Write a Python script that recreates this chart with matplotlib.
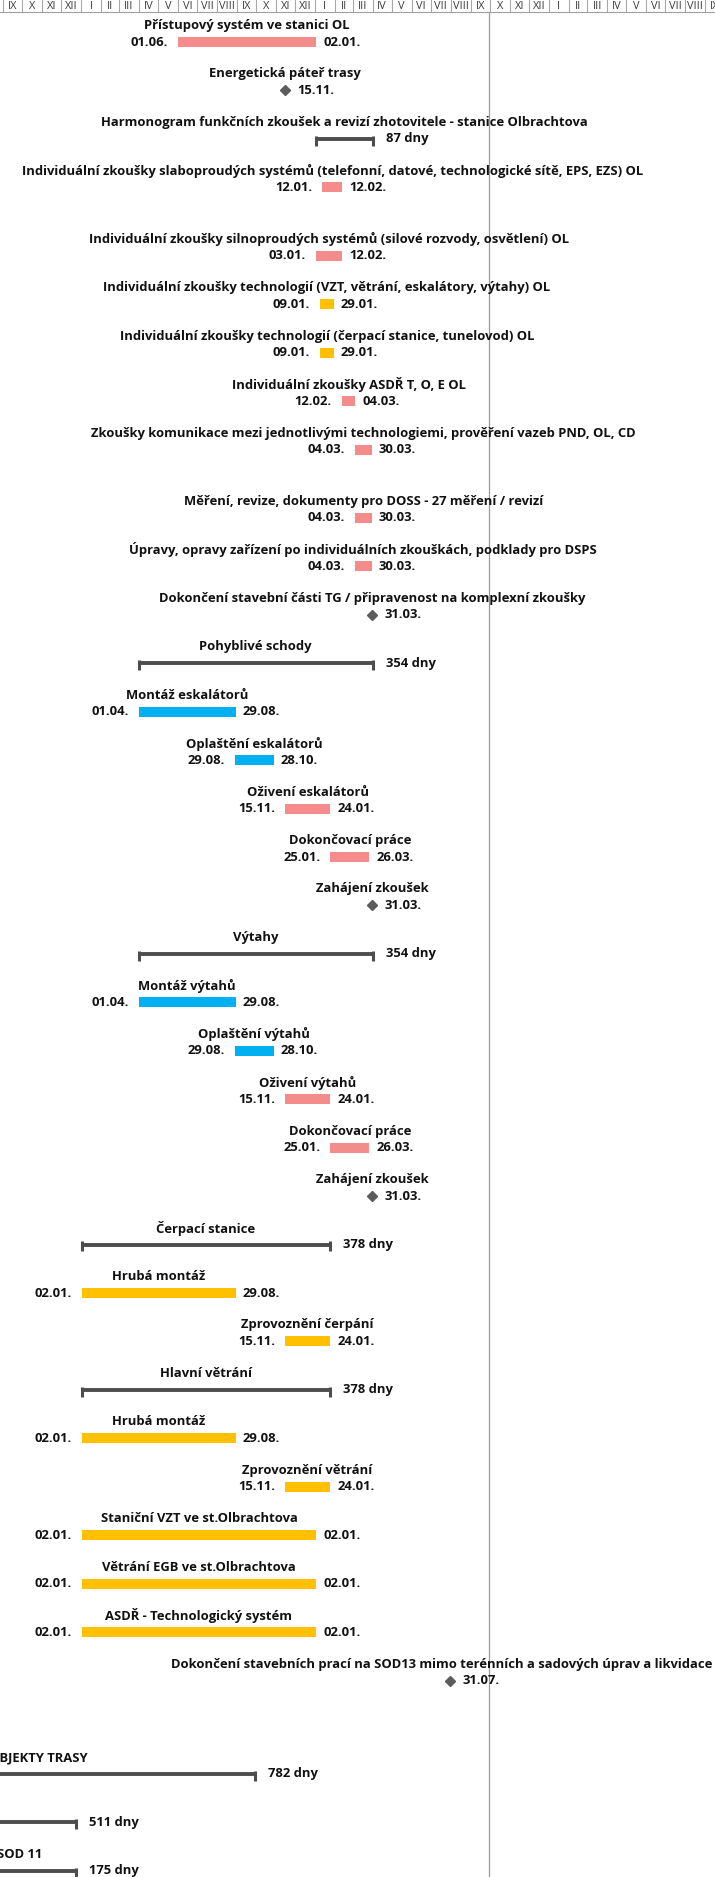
import matplotlib
matplotlib.use("Agg")
import matplotlib.pyplot as plt
import matplotlib.dates as mdates
import pandas as pd

plt.rcParams['font.family'] = ['Open Sans', 'DejaVu Sans']

# ---- data ---------------------------------------------------------------
names = [
    'Přístupový systém ve stanici OL',
    'Energetická páteř trasy',
    'Harmonogram funkčních zkoušek a revizí zhotovitele - stanice Olbrachtova',
    'Individuální zkoušky slaboproudých systémů (telefonní, datové, technologické sítě, EPS, EZS) OL',
    'Individuální zkoušky silnoproudých systémů (silové rozvody, osvětlení) OL',
    'Individuální zkoušky technologií (VZT, větrání, eskalátory, výtahy) OL',
    'Individuální zkoušky technologií (čerpací stanice, tunelovod) OL',
    'Individuální zkoušky ASDŘ T, O, E OL',
    'Zkoušky komunikace mezi jednotlivými technologiemi, prověření vazeb PND, OL, CD',
    'Měření, revize, dokumenty pro DOSS - 27 měření / revizí',
    'Úpravy, opravy zařízení po individuálních zkouškách, podklady pro DSPS',
    'Dokončení stavební části TG / připravenost na komplexní zkoušky',
    'Pohyblivé schody',
    'Montáž eskalátorů',
    'Oplaštění eskalátorů',
    'Oživení eskalátorů',
    'Dokončovací práce',
    'Zahájení zkoušek',
    'Výtahy',
    'Montáž výtahů',
    'Oplaštění výtahů',
    'Oživení výtahů',
    'Dokončovací práce',
    'Zahájení zkoušek',
    'Čerpací stanice',
    'Hrubá montáž',
    'Zprovoznění čerpání',
    'Hlavní větrání',
    'Hrubá montáž',
    'Zprovoznění větrání',
    'Staniční VZT ve st.Olbrachtova',
    'Větrání EGB ve st.Olbrachtova',
    'ASDŘ - Technologický systém',
    'Dokončení stavebních prací na SOD13 mimo terénních a sadových úprav a likvidace ZS',
    'SOD 13 - OBJEKTY TRASY',
    'SOD 12',
    'SOD 11',
]

kinds = ['task', 'milestone', 'summary', 'task', 'task', 'task', 'task', 'task',
         'task', 'task', 'task', 'milestone', 'summary', 'task', 'task', 'task',
         'task', 'milestone', 'summary', 'task', 'task', 'task', 'task',
         'milestone', 'summary', 'task', 'task', 'summary', 'task', 'task',
         'task', 'task', 'task', 'milestone', 'summary', 'summary', 'summary']

starts = ['01.06.2026', '15.11.2026', '03.01.2027', '12.01.2027', '03.01.2027',
          '09.01.2027', '09.01.2027', '12.02.2027', '04.03.2027', '04.03.2027',
          '04.03.2027', '31.03.2027', '01.04.2026', '01.04.2026', '29.08.2026',
          '15.11.2026', '25.01.2027', '31.03.2027', '01.04.2026', '01.04.2026',
          '29.08.2026', '15.11.2026', '25.01.2027', '31.03.2027', '02.01.2026',
          '02.01.2026', '15.11.2026', '02.01.2026', '02.01.2026', '15.11.2026',
          '02.01.2026', '02.01.2026', '02.01.2026', '31.07.2027', '28.08.2024',
          '31.07.2024', '02.07.2025']

ends = ['02.01.2027', '15.11.2026', '31.03.2027', '12.02.2027', '12.02.2027',
        '29.01.2027', '29.01.2027', '04.03.2027', '30.03.2027', '30.03.2027',
        '30.03.2027', '31.03.2027', '31.03.2027', '29.08.2026', '28.10.2026',
        '24.01.2027', '26.03.2027', '31.03.2027', '31.03.2027', '29.08.2026',
        '28.10.2026', '24.01.2027', '26.03.2027', '31.03.2027', '24.01.2027',
        '29.08.2026', '24.01.2027', '24.01.2027', '29.08.2026', '24.01.2027',
        '02.01.2027', '02.01.2027', '02.01.2027', '31.07.2027', '28.09.2026',
        '23.12.2025', '23.12.2025']

# colour group of each task bar (zk = zkoušky, mont = montáž, tech = technologie)
groups = ['zk', None, None, 'zk', 'zk', 'tech', 'tech', 'zk', 'zk', 'zk', 'zk',
          None, None, 'mont', 'mont', 'zk', 'zk', None, None, 'mont', 'mont',
          'zk', 'zk', None, None, 'tech', 'tech', None, 'tech', 'tech', 'tech',
          'tech', 'tech', None, None, None, None]

durations = [None, None, '87 dny', None, None, None, None, None, None, None,
             None, None, '354 dny', None, None, None, None, None, '354 dny',
             None, None, None, None, None, '378 dny', None, None, '378 dny',
             None, None, None, None, None, None, '782 dny', '511 dny', '175 dny']

roman = ['I', 'II', 'III', 'IV', 'V', 'VI', 'VII', 'VIII', 'IX', 'X', 'XI', 'XII']
today = '30.09.2027'

# ---- style / layout ---------------------------------------------------
W, H = 715, 1877
colors = {'zk': '#f48c8c', 'mont': '#00b0f0', 'tech': '#ffc000'}
txt_col = '#111111'
sum_col = '#4d4d4d'
fs = 9.4
px_per_day = 702 / 1096
pitch = 48.44
extra = {4: 20, 9: 20, 34: 45}

fig = plt.figure(figsize=(W / 100, H / 100), dpi=100)
ax = fig.add_axes([0, 0, 1, 1])
ax.axis('off')

x_ref = mdates.date2num(pd.Timestamp('2025-09-01'))
left = x_ref - 3 / px_per_day
ax.set_xlim(left, left + W / px_per_day)
ax.set_ylim(H, 0)


def dnum(s):
    return mdates.date2num(pd.to_datetime(s, format='%d.%m.%Y'))


def dlabel(s):
    d = pd.to_datetime(s, format='%d.%m.%Y')
    return f'{d.day:02d}.{d.month:02d}.'


def px(n):
    return n / px_per_day


# month header
months = pd.date_range('2025-08-01', '2028-10-01', freq='MS')
for m0, m1 in zip(months[:-1], months[1:]):
    a, b = mdates.date2num(m0), mdates.date2num(m1)
    ax.plot([a, a], [0, 11.5], color='#a8a8a8', lw=0.8, zorder=2)
    ax.text((a + b) / 2, 6.4, roman[m0.month - 1], ha='center', va='center',
            fontsize=7.9, color='#3c3c3c', zorder=2)
ax.axhline(11.5, color='#a0a0a0', lw=0.8, zorder=2)

# today line
ax.plot([dnum(today)] * 2, [11.5, H], color='#9a9a9a', lw=0.9, zorder=1)

# rows
y = 42.0
ys = []
for i in range(len(names)):
    ys.append(y)
    y += pitch + extra.get(i + 1, 0)

for name, kind, s, e, g, dur, yy in zip(names, kinds, starts, ends, groups,
                                       durations, ys):
    x0 = dnum(s)
    x1 = dnum(e) + 1
    ty = yy - 16.5
    if kind == 'task':
        ax.barh(yy, x1 - x0, left=x0, height=10, color=colors[g], zorder=3)
        ax.text((x0 + x1) / 2, ty, name, ha='center', va='center',
                fontsize=fs, fontweight='bold', color=txt_col, zorder=4)
        ax.text(x0 - px(10), yy, dlabel(s), ha='right', va='center',
                fontsize=fs, fontweight='bold', color=txt_col, zorder=4)
        ax.text(x1 + px(7), yy, dlabel(e), ha='left', va='center',
                fontsize=fs, fontweight='bold', color=txt_col, zorder=4)
    elif kind == 'milestone':
        xm = x0 + 0.5
        ax.plot(xm, yy, marker='D', ms=5.2, color='#5c5c5c', mec='#5c5c5c',
                zorder=3)
        ax.text(xm, ty, name, ha='center', va='center', fontsize=fs,
                fontweight='bold', color=txt_col, zorder=4)
        ax.text(xm + px(12), yy, dlabel(s), ha='left', va='center',
                fontsize=fs, fontweight='bold', color=txt_col, zorder=4)
    else:
        ax.plot([x0, x1], [yy, yy], color=sum_col, lw=2.8,
                solid_capstyle='butt', zorder=3)
        for xc in (x0, x1):
            ax.plot([xc, xc], [yy - 3.2, yy + 6.8], color=sum_col, lw=2.2,
                    solid_capstyle='butt', zorder=3)
        ax.text((x0 + x1) / 2, ty, name, ha='center', va='center',
                fontsize=fs, fontweight='bold', color=txt_col, zorder=4)
        ax.text(x1 + px(13), yy, dur, ha='left', va='center', fontsize=fs,
                fontweight='bold', color=txt_col, zorder=4)

fig.savefig('out.png', dpi=100, facecolor='white')
